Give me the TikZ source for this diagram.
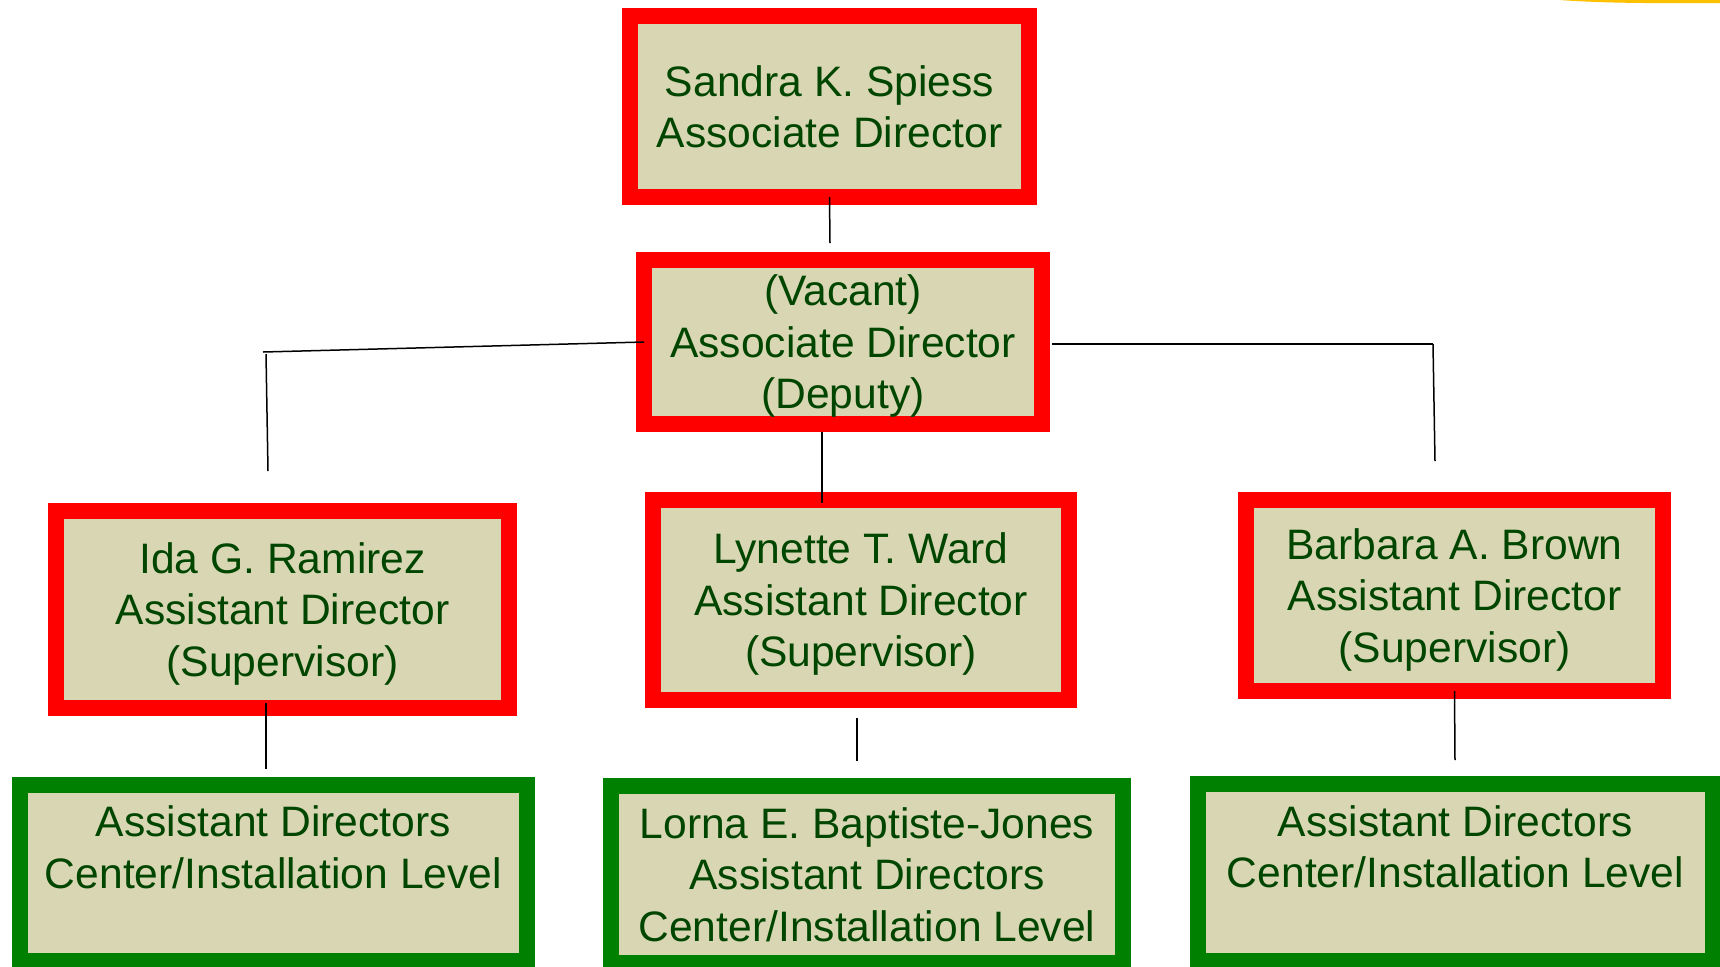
\documentclass[tikz,border=0pt]{standalone}
\usepackage{fontspec}
\setmainfont{Liberation Sans}
\definecolor{boxfill}{RGB}{217,214,180}
\definecolor{boxtext}{RGB}{0,70,0}
\definecolor{boxred}{RGB}{255,0,0}
\definecolor{boxgreen}{RGB}{0,128,0}
\definecolor{amber}{RGB}{255,192,0}

\begin{document}
\begin{tikzpicture}[x=0.5pt,y=-0.5pt,
		redbox/.style={shape=rectangle,draw=boxred,fill=boxfill,line width=8pt,inner sep=0pt,outer sep=0pt,
			align=center,text=boxtext,text depth=0pt,font=\fontsize{21.3}{25.75}\selectfont},
		greenbox/.style={redbox,draw=boxgreen},
		every edge/.append style={draw=black,line width=0.75pt}]
		        \useasboundingbox (0,0) rectangle (1720,966);
		        \fill[white] (0,0) rectangle (1720,966);
		        \fill[amber] (1560,-5) -- (1560,0) .. controls (1600,3) and (1650,3.5) .. (1725,3) -- (1725,-5) -- cycle;

		        \node[redbox,minimum width=199.5pt,minimum height=90.5pt] (S) at (829.5,106.5) {Sandra K. Spiess\\Associate Director};
		        \node[redbox,minimum width=199pt,minimum height=82pt] (V) at (843,342) {(Vacant)\\Associate Director\\(Deputy)};
		        \node[redbox,minimum width=226.5pt,minimum height=98.5pt] (I) at (282.5,609.5) {Ida G. Ramirez\\Assistant Director\\(Supervisor)};
		        \node[redbox,minimum width=208pt,minimum height=100pt] (L) at (861,600) {Lynette T. Ward\\Assistant Director\\(Supervisor)};
		        \node[redbox,minimum width=208.5pt,minimum height=95.5pt] (B) at (1454.5,595.5) {Barbara A. Brown\\Assistant Director\\(Supervisor)};
		        \node[greenbox,minimum width=253.5pt,minimum height=88pt] (G1) at (273.5,873) {Assistant Directors\\Center/Installation Level\\\strut};
		        \node[greenbox,minimum width=256pt,minimum height=88.5pt] (G2) at (867,874.5) {Lorna E. Baptiste-Jones\\Assistant Directors\\Center/Installation Level};
		        \node[greenbox,minimum width=257.5pt,minimum height=88.5pt] (G3) at (1455.5,872.5) {Assistant Directors\\Center/Installation Level\\\strut};

		        \coordinate (s1) at (830,243);
		        \coordinate (vl1) at (263,352);
		        \coordinate (vl2) at (266,354);
		        \coordinate (vl3) at (268,471);
		        \coordinate (vr1) at (1052,344);
		        \coordinate (vr2) at (1433,344);
		        \coordinate (vr3) at (1435,461);
		        \coordinate (vm1) at (822,432);
		        \coordinate (vm2) at (822,503);
		        \coordinate (i1) at (266,703);
		        \coordinate (i2) at (266,769);
		        \coordinate (l1) at (857,718);
		        \coordinate (l2) at (857,761);
		        \coordinate (b1) at (1455,760);

		        \path (S.south) edge (s1);
		        \path (V.west) edge (vl1);
		        \path (vl2) edge (vl3);
		        \path (vr1) edge (vr2);
		        \path (vr2) edge (vr3);
		        \path (vm1) edge (vm2);
		        \path (i1) edge (i2);
		        \path (l1) edge (l2);
		        \path (B.south) edge (b1);

	    	\end{tikzpicture}
\end{document}
